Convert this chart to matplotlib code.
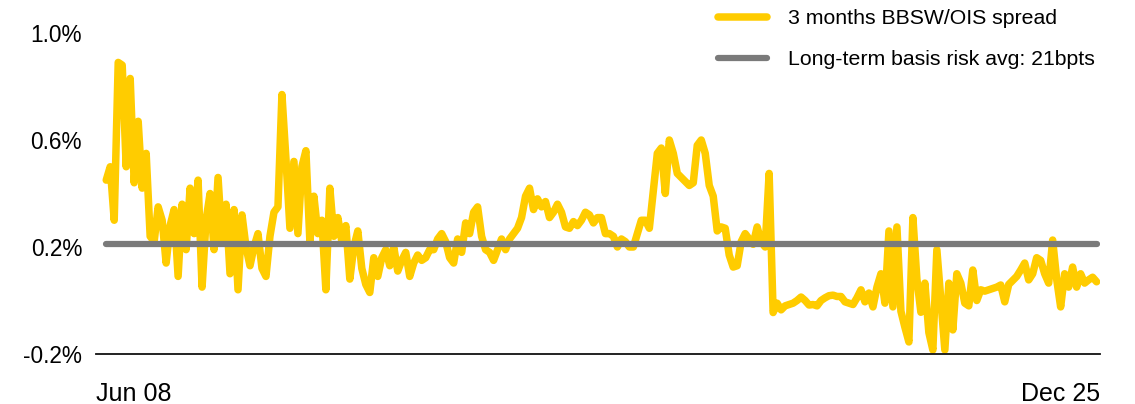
import numpy as np
import pandas as pd
import matplotlib
matplotlib.use("Agg")
import matplotlib.pyplot as plt

plt.rcParams['font.family'] = ['Liberation Sans', 'DejaVu Sans']

# 3 months BBSW/OIS spread, % (evenly spaced Jun 2008 -> Dec 2025)
spread = [
    0.45, 0.50, 0.30, 0.89, 0.88, 0.50, 0.83, 0.44, 0.67, 0.42,
    0.55, 0.24, 0.22, 0.35, 0.30, 0.14, 0.28, 0.34, 0.09, 0.36,
    0.19, 0.42, 0.25, 0.45, 0.05, 0.30, 0.40, 0.19, 0.46, 0.22,
    0.36, 0.10, 0.34, 0.04, 0.32, 0.20, 0.13, 0.20, 0.25, 0.12,
    0.09, 0.24, 0.33, 0.35, 0.77, 0.53, 0.27, 0.52, 0.25, 0.50,
    0.56, 0.22, 0.39, 0.25, 0.30, 0.04, 0.42, 0.24, 0.31, 0.22,
    0.28, 0.08, 0.20, 0.26, 0.12, 0.06, 0.03, 0.16, 0.09, 0.16,
    0.19, 0.13, 0.20, 0.11, 0.15, 0.18, 0.09, 0.14, 0.17, 0.15,
    0.16, 0.19, 0.19, 0.23, 0.25, 0.22, 0.16, 0.14, 0.23, 0.18,
    0.29, 0.25, 0.33, 0.35, 0.24, 0.19, 0.18, 0.15, 0.19, 0.23,
    0.19, 0.23, 0.25, 0.27, 0.31, 0.39, 0.42, 0.34, 0.38, 0.35,
    0.37, 0.31, 0.33, 0.36, 0.33, 0.275, 0.27, 0.295, 0.28, 0.30,
    0.33, 0.32, 0.29, 0.31, 0.31, 0.25, 0.25, 0.24, 0.20, 0.23,
    0.22, 0.20, 0.20, 0.25, 0.30, 0.30, 0.27, 0.41, 0.55, 0.57,
    0.40, 0.60, 0.55, 0.475, 0.46, 0.445, 0.43, 0.44, 0.58, 0.60,
    0.55, 0.43, 0.39, 0.26, 0.275, 0.27, 0.17, 0.125, 0.13, 0.22,
    0.25, 0.23, 0.21, 0.275, 0.22, 0.20, 0.475, -0.045, -0.01, -0.035,
    -0.02, -0.015, -0.01, 0.0, 0.013, 0.0, -0.017, -0.015, -0.02, 0.0,
    0.01, 0.018, 0.02, 0.015, 0.015, -0.005, -0.01, -0.015, 0.01, 0.04,
    -0.005, 0.028, -0.024, 0.05, 0.10, -0.01, 0.26, -0.024, 0.275, -0.04,
    -0.10, -0.155, 0.31, 0.08, -0.044, 0.065, -0.12, -0.185, 0.19, 0.0,
    -0.185, 0.065, -0.11, 0.10, 0.065, -0.01, -0.02, 0.114, 0.0, 0.04,
    0.035, 0.04, 0.045, 0.05, 0.058, -0.005, 0.06, 0.075, 0.09, 0.114,
    0.14, 0.077, 0.10, 0.16, 0.15, 0.10, 0.065, 0.226, 0.08, -0.024,
    0.10, 0.05, 0.125, 0.05, 0.10, 0.065, 0.077, 0.087, 0.07,
]
dates = pd.date_range('2008-06-01', '2025-12-01', periods=len(spread))
long_term_avg = 0.21

y_ticks = [-0.2, 0.2, 0.6, 1.0]
y_labels = ['-0.2%', '0.2%', '0.6%', '1.0%']
x_labels = ['Jun 08', 'Dec 25']
series_names = ['3 months BBSW/OIS spread', 'Long-term basis risk avg: 21bpts']

yellow = '#FFCC00'
grey = '#7A7A7A'

fig = plt.figure(figsize=(11.35, 4.04), dpi=100)
ax = fig.add_axes([96 / 1135, 50 / 404, 1004 / 1135, 321 / 404])

ax.plot(dates, spread, color=yellow, lw=5.4, solid_joinstyle='round',
        solid_capstyle='round', label=series_names[0], zorder=2)
ax.plot([dates[0], dates[-1]], [long_term_avg, long_term_avg], color=grey,
        lw=4.5, solid_capstyle='round', label=series_names[1], zorder=3)

pad_l = pd.Timedelta(days=66)
pad_r = pd.Timedelta(days=22)
ax.set_xlim(dates[0] - pad_l, dates[-1] + pad_r)
ax.set_ylim(-0.2, 1.0)

ax.set_yticks(y_ticks)
ax.set_yticklabels(y_labels, fontsize=16.3)
ax.tick_params(axis='y', length=0, pad=10)

ax.set_xticks([dates[0] - pad_l, dates[-1] + pad_r])
ax.set_xticklabels(x_labels, fontsize=18)
ax.tick_params(axis='x', length=0, pad=20)
xl = ax.get_xticklabels()
xl[0].set_horizontalalignment('left')
xl[1].set_horizontalalignment('right')

for s in ['top', 'right', 'left']:
    ax.spines[s].set_visible(False)
ax.spines['bottom'].set_color('#111111')
ax.spines['bottom'].set_linewidth(1.3)

fig.legend(loc='upper left', bbox_to_anchor=(716 / 1135, 397 / 404), frameon=False,
           fontsize=15.3, handlelength=2.3, handletextpad=1.0, labelspacing=1.05,
           borderpad=0.1, borderaxespad=0.0)

fig.savefig('out.png', dpi=100, facecolor='white')
